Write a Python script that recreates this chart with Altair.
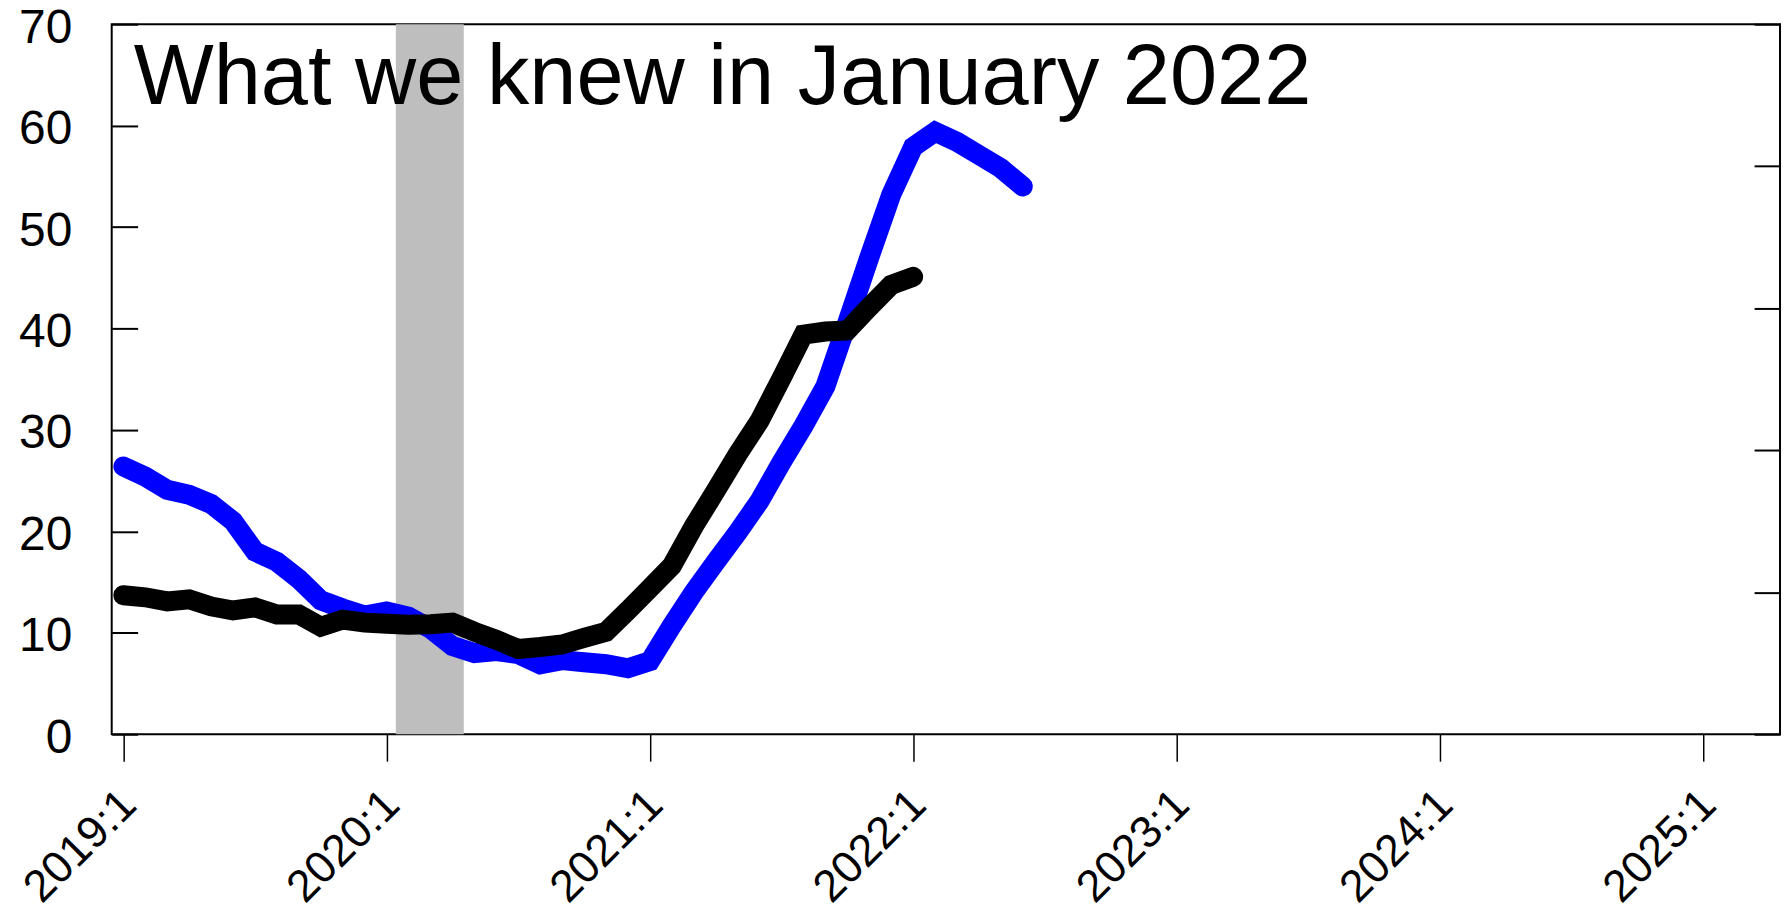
import altair as alt
import pandas as pd

# ---- data (monthly, starting 2019:1) ----
start_year = 2019
blue_values = [26.4, 25.4, 24.1, 23.6, 22.7, 21.0, 18.0, 17.0, 15.3, 13.2, 12.4, 11.7,
               12.1, 11.6, 10.4, 8.7, 8.0, 8.2, 7.9, 6.9, 7.3, 7.1, 6.9, 6.5,
               7.2, 10.7, 14.0, 17.0, 19.9, 23.0, 26.8, 30.4, 34.3, 40.6, 47.0, 53.2,
               57.9, 59.4, 58.4, 57.1, 55.8, 54.0]
black_values = [13.7, 13.5, 13.1, 13.3, 12.6, 12.2, 12.5, 11.8, 11.8, 10.6, 11.3, 11.0,
                10.9, 10.8, 10.85, 11.0, 10.1, 9.3, 8.4, 8.6, 8.85, 9.5, 10.1, 12.2,
                14.4, 16.6, 20.5, 24.0, 27.6, 30.9, 35.1, 39.4, 39.7, 39.8, 42.1, 44.3,
                45.1]
recession_start = [2020.035]
recession_end = [2020.293]
x_tick_years = [2019, 2020, 2021, 2022, 2023, 2024, 2025]
y_left_ticks = [0, 10, 20, 30, 40, 50, 60, 70]
y_right_ticks = [0, 14, 28, 42, 56, 70]
panel_title = ["What we knew in January 2022"]

blue_df = pd.DataFrame({"t": [start_year + i / 12 for i in range(len(blue_values))],
                        "v": blue_values})
black_df = pd.DataFrame({"t": [start_year + i / 12 for i in range(len(black_values))],
                         "v": black_values})
rec_df = pd.DataFrame({"start": recession_start, "end": recession_end})
title_df = pd.DataFrame({"label": panel_title})

FONT = "Liberation Sans"
xscale = alt.Scale(domain=[2018.9557, 2025.2928], nice=False, zero=False)
yscale = alt.Scale(domain=[0, 70], nice=False, zero=True)

xaxis = alt.Axis(values=x_tick_years, labelExpr="datum.value + ':1'", tickSize=27,
                 tickWidth=1.5, tickColor="black", domain=False, grid=False,
                 labelAngle=-45, labelAlign="right", labelBaseline="middle",
                 labelPadding=36, labelOffset=5, labelFontSize=45, labelFont=FONT,
                 labelColor="black", labelFlush=False, labelOverlap=False,
                 labelBound=False, title=None)
yaxis_left = alt.Axis(orient="left", values=y_left_ticks, offset=-26, tickSize=26,
                      tickWidth=2, tickColor="black", domain=False, grid=False,
                      labelFont=FONT, labelFontSize=48, labelColor="black",
                      labelPadding=40, labelBaseline="middle", labelAlign="right",
                      labelOffset=4, labelOverlap=False, labelFlush=False, title=None)
yaxis_right = alt.Axis(orient="right", values=y_right_ticks, offset=-26, tickSize=26,
                       tickWidth=2, tickColor="black", domain=False, grid=False,
                       labels=False, title=None)

rec = alt.Chart(rec_df).mark_rect(color="#BEBEBE").encode(
    x=alt.X("start:Q", scale=xscale, axis=xaxis),
    x2="end:Q",
)

blue = alt.Chart(blue_df).mark_line(color="#0000FF", strokeWidth=20, strokeCap="round",
                                    strokeJoin="miter").encode(
    x=alt.X("t:Q", scale=xscale, axis=xaxis),
    y=alt.Y("v:Q", scale=yscale, axis=yaxis_left),
)

black = alt.Chart(black_df).mark_line(color="#000000", strokeWidth=20, strokeCap="round",
                                      strokeJoin="miter").encode(
    x=alt.X("t:Q", scale=xscale, axis=xaxis),
    y=alt.Y("v:Q", scale=yscale, axis=yaxis_right),
)

title = alt.Chart(title_df).mark_text(font=FONT, fontSize=85, align="left",
                                      baseline="alphabetic", color="black").encode(
    x=alt.value(22), y=alt.value(80), text="label:N"
)

chart = alt.layer(rec, blue, black, title).resolve_axis(y="independent").resolve_scale(
    y="shared"
).properties(
    width=1673, height=712,
    autosize=alt.AutoSizeParams(type="none"),
    padding={"left": 104, "top": 15, "right": 4, "bottom": 180},
    background="white",
).configure_view(stroke="black", strokeWidth=2)

chart.save("out.html", embed_options={"renderer": "svg", "actions": False})
